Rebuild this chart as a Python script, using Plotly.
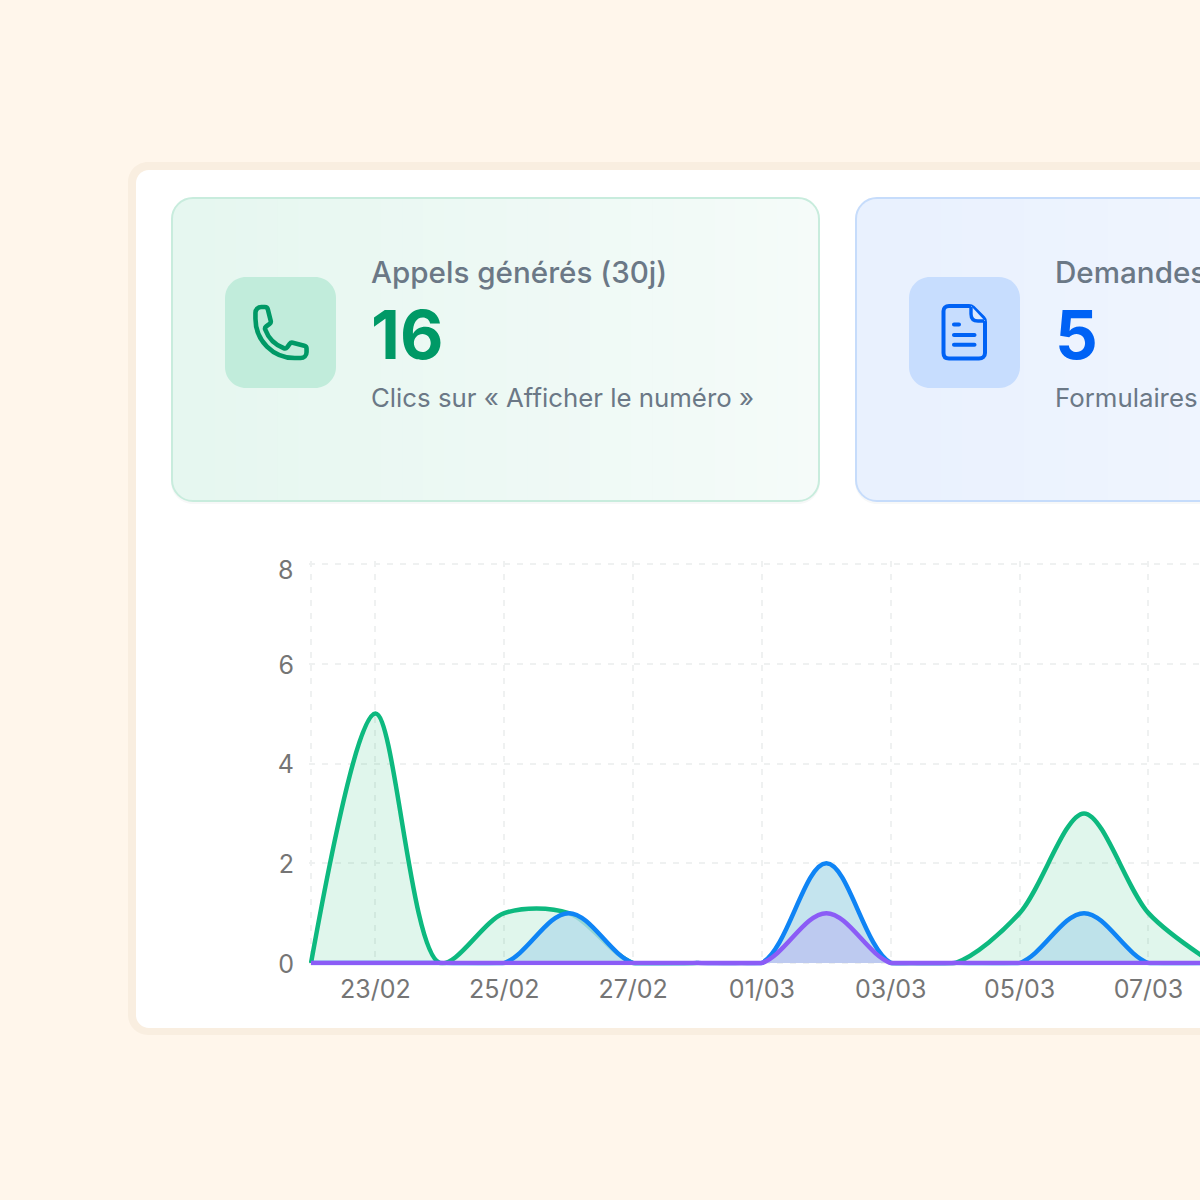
import re
import plotly.graph_objects as go

# ---- data ----
dates = ["2025-02-22", "2025-02-23", "2025-02-24", "2025-02-25", "2025-02-26",
         "2025-02-27", "2025-02-28", "2025-03-01", "2025-03-02", "2025-03-03",
         "2025-03-04", "2025-03-05", "2025-03-06", "2025-03-07", "2025-03-08"]
appels     = [0, 5, 0, 1, 1, 0, 0, 0, 0, 0, 0, 1, 3, 1, 0]
demandes   = [0, 0, 0, 0, 1, 0, 0, 0, 2, 0, 0, 0, 1, 0, 0]
troisieme  = [0, 0, 0, 0, 0, 0, 0, 0, 1, 0, 0, 0, 0, 0, 0]
x_tickvals = ["2025-02-22", "2025-02-23", "2025-02-25", "2025-02-27", "2025-03-01",
              "2025-03-03", "2025-03-05", "2025-03-07"]
x_ticktext = ["", "23/02", "25/02", "27/02", "01/03", "03/03", "05/03", "07/03"]
y_tickvals = [0, 2, 4, 6, 8]
y_ticktext = ["0", "2", "4", "6", ""]

FONT = "Inter"
BG = "#FFF6EB"
PX = lambda x: x / 1200
PY = lambda y: 1 - y / 1200
K = 0.5523


def rr(x0, y0, x1, y1, r, left=True):
    """Rounded rectangle as a paper-referenced path."""
    k = r * (1 - K)
    pts = []
    if left:
        pts.append(f"M{PX(x0)},{PY(y0 + r)}")
        pts.append(f"C{PX(x0)},{PY(y0 + k)} {PX(x0 + k)},{PY(y0)} {PX(x0 + r)},{PY(y0)}")
    else:
        pts.append(f"M{PX(x0)},{PY(y0)}")
    pts.append(f"L{PX(x1 - r)},{PY(y0)}")
    pts.append(f"C{PX(x1 - k)},{PY(y0)} {PX(x1)},{PY(y0 + k)} {PX(x1)},{PY(y0 + r)}")
    pts.append(f"L{PX(x1)},{PY(y1 - r)}")
    pts.append(f"C{PX(x1)},{PY(y1 - k)} {PX(x1 - k)},{PY(y1)} {PX(x1 - r)},{PY(y1)}")
    if left:
        pts.append(f"L{PX(x0 + r)},{PY(y1)}")
        pts.append(f"C{PX(x0 + k)},{PY(y1)} {PX(x0)},{PY(y1 - k)} {PX(x0)},{PY(y1 - r)}")
    else:
        pts.append(f"L{PX(x0)},{PY(y1)}")
    return " ".join(pts) + " Z"


def shape(path, fill="rgba(0,0,0,0)", line="rgba(0,0,0,0)", width=0):
    return dict(type="path", xref="paper", yref="paper", path=path, fillcolor=fill,
                line=dict(color=line, width=width), layer="below")


def svg_to_paper(d, cx, cy, s):
    """Turn a 24-unit icon path with relative commands into paper coordinates."""
    toks = re.findall(r"[MmLlHhVvCcZz]|-?\d*\.?\d+", d)
    i, x, y, cmd, out = 0, 0.0, 0.0, None, []
    T = lambda a, b: f"{PX(cx + (a - 12) * s)},{PY(cy + (b - 12) * s)}"
    while i < len(toks):
        if re.match(r"[A-Za-z]", toks[i]):
            cmd = toks[i]
            i += 1
            if cmd in "Zz":
                out.append("Z")
                continue
        if cmd in "Cc":
            v = [float(t) for t in toks[i:i + 6]]
            i += 6
            if cmd == "c":
                v = [v[j] + (x if j % 2 == 0 else y) for j in range(6)]
            out.append(f"C{T(v[0], v[1])} {T(v[2], v[3])} {T(v[4], v[5])}")
            x, y = v[4], v[5]
        elif cmd in "Hh":
            a = float(toks[i]); i += 1
            x = a if cmd == "H" else x + a
            out.append(f"L{T(x, y)}")
        elif cmd in "Vv":
            a = float(toks[i]); i += 1
            y = a if cmd == "V" else y + a
            out.append(f"L{T(x, y)}")
        else:
            a, b = float(toks[i]), float(toks[i + 1]); i += 2
            if cmd in "ml":
                x, y = x + a, y + b
            else:
                x, y = a, b
            out.append(("M" if cmd in "Mm" else "L") + T(x, y))
    return " ".join(out)


def lerp_hex(a, b, t):
    ca = [int(a[i:i + 2], 16) for i in (1, 3, 5)]
    cb = [int(b[i:i + 2], 16) for i in (1, 3, 5)]
    return "#" + "".join(f"{round(p + (q - p) * t):02X}" for p, q in zip(ca, cb))


PHONE = ("M2.25 6.75c0 8.284 6.716 15 15 15h2.25c1.243 0 2.25-1.007 2.25-2.25v-1.372"
         "c0-.516-.351-.966-.852-1.091l-4.423-1.106c-.44-.11-.902.055-1.173.417l-.97 1.293"
         "c-.282.376-.769.542-1.21.38c-3.3-1.21-5.93-3.84-7.143-7.143"
         "c-.162-.441.004-.928.38-1.21l1.293-.97c.363-.271.527-.734.417-1.173L6.963 3.102"
         "c-.125-.5-.575-.852-1.091-.852H4.5C3.257 2.25 2.25 3.257 2.25 4.5v2.25Z")

shapes = [
    shape(rr(128, 162, 1320, 1035, 20), fill="#F9EEE0"),
    shape(rr(136, 170, 1312, 1028, 13), fill="#FFFFFF"),
]

# cards with a light left-to-right fade, painted as solid steps
for (x0, x1, c0, c1, edge) in [(172, 819, "#E6F7F0", "#F5FBF9", "#C8ECDD"),
                               (856, 1503, "#E9F1FE", "#F5F8FF", "#C6DCFB")]:
    shapes.append(shape(rr(x0 - 1, 200, x1 + 1, 504, 22), fill="#F7F8F8"))
    shapes.append(shape(rr(x0, 198, x1, 501, 21), fill=c0))
    steps = 30
    for n in range(1, steps):
        xi = x0 + 22 + (x1 - x0 - 22) * n / steps
        shapes.append(shape(rr(xi, 198, x1, 501, 21, left=False), fill=lerp_hex(c0, c1, n / (steps - 1))))
    shapes.append(shape(rr(x0, 198, x1, 501, 21), line=edge, width=2))

# icon tiles
shapes.append(shape(rr(225, 277, 336, 388, 21), fill="#C1ECDB"))
shapes.append(shape(rr(909, 277, 1020, 388, 21), fill="#C7DDFE"))

# phone icon
shapes.append(shape(svg_to_paper(PHONE, 281, 332.5, 2.62), line="#009966", width=4.6))

# document icon
BLUE_I = "#0062F5"
doc = (f"M{PX(949)},{PY(306)} L{PX(969)},{PY(306)} C{PX(971)},{PY(306)} {PX(972)},{PY(306.5)} {PX(973)},{PY(307.5)} "
       f"L{PX(983.5)},{PY(318)} C{PX(984.5)},{PY(319)} {PX(985)},{PY(320)} {PX(985)},{PY(322)} L{PX(985)},{PY(353)} "
       f"C{PX(985)},{PY(356.5)} {PX(982.5)},{PY(358.5)} {PX(979)},{PY(358.5)} L{PX(949)},{PY(358.5)} "
       f"C{PX(945.5)},{PY(358.5)} {PX(943.5)},{PY(356.5)} {PX(943.5)},{PY(353)} L{PX(943.5)},{PY(311)} "
       f"C{PX(943.5)},{PY(308)} {PX(945.5)},{PY(306)} {PX(949)},{PY(306)} Z")
fold_fill = (f"M{PX(971)},{PY(306)} L{PX(971)},{PY(314)} C{PX(971)},{PY(319)} {PX(973.5)},{PY(321)} "
             f"{PX(978)},{PY(321)} L{PX(985)},{PY(321)} Z")
fold_line = (f"M{PX(971)},{PY(307)} L{PX(971)},{PY(314)} C{PX(971)},{PY(319)} {PX(973.5)},{PY(321)} "
             f"{PX(978)},{PY(321)} L{PX(984)},{PY(321)}")
shapes.append(shape(doc, line=BLUE_I, width=4))
shapes.append(shape(fold_fill, fill="#DCE9FE"))
shapes.append(shape(fold_line, line=BLUE_I, width=3.4))
for (a, b, c) in [(952, 961, 324.5), (952, 976.5, 335), (952, 976.5, 344.7)]:
    shapes.append(shape(rr(a, c - 2, b, c + 2, 2), fill=BLUE_I))


def txt(x, y, s, size, color, weight=400):
    return dict(xref="paper", yref="paper", x=PX(x - 2.5), y=PY(y - 1), xanchor="left", yanchor="middle",
                text=s, showarrow=False, font=dict(family=FONT, size=size, color=color, weight=weight))


GREY = "#6B7886"
TICK = "#757575"
annotations = [
    txt(371, 273, "Appels générés (30j)", 29.6, GREY, 500),
    txt(371, 335, "16", 67, "#009966", 700),
    txt(371, 398, "Clics sur « Afficher le numéro »", 25.8, GREY),
    txt(1055, 273, "Demandes de contact (30j)", 29.6, GREY, 500),
    txt(1055, 335, "5", 67, BLUE_I, 700),
    txt(1055, 398, "Formulaires de contact envoyés", 25.8, GREY),
    # the top tick label sits lower than its gridline, as in the reference
    dict(xref="paper", yref="y", x=PX(295), y=8, yshift=-6, xanchor="right", yanchor="middle", text="8",
         showarrow=False, font=dict(family=FONT, size=25, color=TICK)),
]

GREEN, BLUE, PURPLE = "#0DB97F", "#0F84F5", "#8B5CF6"


def mask_long_zero_runs(v):
    """Blank the middle of a long run of zeros: the reference shows no baseline stroke there."""
    n = len(v)
    out = []
    for i, val in enumerate(v):
        near = v[max(0, i - 2):min(n, i + 3)]
        out.append(None if val == 0 and len(near) == 5 and not any(near) else val)
    return out


def area(y, line, fill, smoothing=1.0):
    return go.Scatter(x=dates, y=y, mode="lines", fill="tozeroy", fillcolor=fill,
                      line=dict(color=line, width=4.5, shape="spline", smoothing=smoothing),
                      hoverinfo="skip", showlegend=False)


purple_hump = [v if any(troisieme[max(0, i - 2):i + 3]) else None for i, v in enumerate(troisieme)]
purple_base = [0 if v == 0 else None for v in troisieme]

fig = go.Figure([
    area(mask_long_zero_runs(appels), GREEN, "rgba(16,185,110,0.13)", smoothing=0.9),
    area(demandes, BLUE, "rgba(181,221,234,0.8)"),
    area(purple_hump, PURPLE, "rgba(187,191,241,0.7)"),
    go.Scatter(x=dates, y=purple_base, mode="lines", line=dict(color=PURPLE, width=4.5),
               hoverinfo="skip", showlegend=False),
])

GRID = dict(showgrid=True, gridcolor="#EFF1F1", gridwidth=1.5, griddash="6px,7px", zeroline=False,
            showline=False, ticks="outside", tickcolor="rgba(0,0,0,0)")
fig.update_layout(
    width=1200, height=1200, margin=dict(l=0, r=0, t=0, b=0, autoexpand=False),
    paper_bgcolor=BG, plot_bgcolor="rgba(0,0,0,0)", shapes=shapes, annotations=annotations,
    xaxis=dict(GRID, type="date", domain=[PX(309), 1.0], range=["2025-02-21 23:15", "2025-03-07 19:12"],
               tickmode="array", tickvals=x_tickvals, ticktext=x_ticktext, ticklen=2,
               tickfont=dict(family=FONT, size=25, color=TICK), tickangle=0),
    yaxis=dict(GRID, domain=[PY(965.3), PY(561)], range=[-0.046, 8.06], tickmode="array",
               tickvals=y_tickvals, ticktext=y_ticktext, ticklen=9, ticklabelshift=1,
               tickfont=dict(family=FONT, size=25, color=TICK)),
)
fig.write_html("out.html", config={"displayModeBar": False},
               post_script="document.body.style.margin='0';document.body.style.overflow='hidden';")
